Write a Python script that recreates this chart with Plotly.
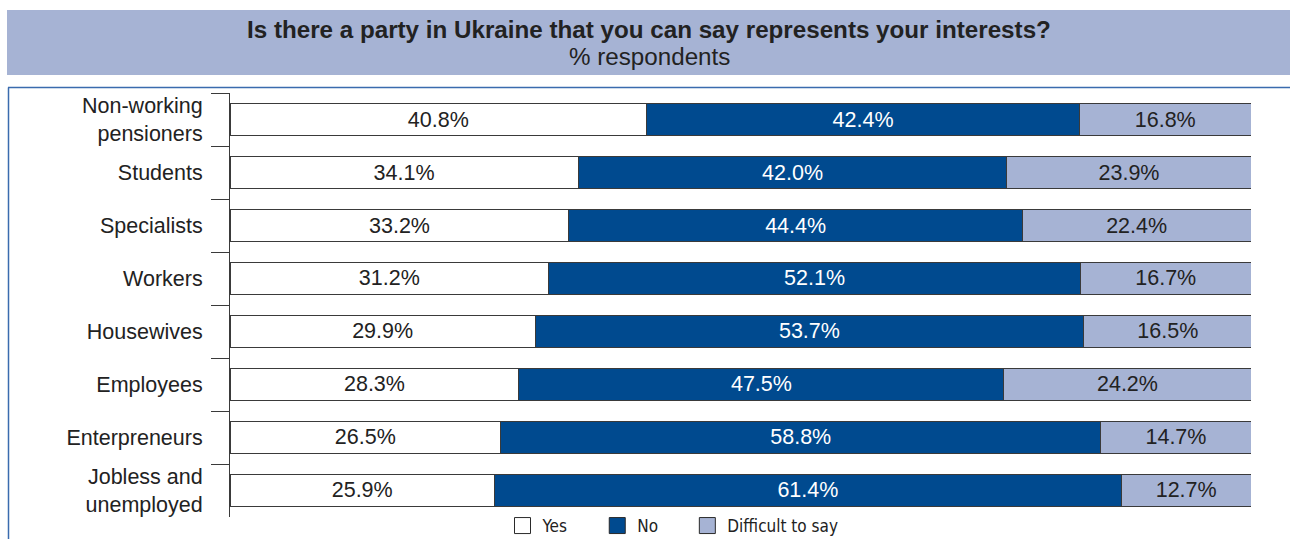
import plotly.graph_objects as go

categories = ["Non-working<br>pensioners", "Students", "Specialists", "Workers",
              "Housewives", "Employees", "Enterpreneurs", "Jobless and<br>unemployed"]
yes = [40.8, 34.1, 33.2, 31.2, 29.9, 28.3, 26.5, 25.9]
no = [42.4, 42.0, 44.4, 52.1, 53.7, 47.5, 58.8, 61.4]
difficult = [16.8, 23.9, 22.4, 16.7, 16.5, 24.2, 14.7, 12.7]
series_names = ["Yes", "No", "Difficult to say"]

W, H = 1290, 539
x0, x1 = 230, 1251
y0, y1 = 93, 517

def px(p):
    return p / W

def py(p):
    return 1 - p / H

fill = ["#FFFFFF", "#004A8F", "#A6B3D4"]
txtc = ["#222222", "#FFFFFF", "#222222"]
fig = go.Figure()
for name, vals, fc, tc in zip(series_names, [yes, no, difficult], fill, txtc):
    fig.add_trace(go.Bar(
        y=categories, x=vals, name=name, orientation="h",
        marker=dict(color=fc, line=dict(color="#3a3a3a", width=1)),
        width=0.59, showlegend=False,
        texttemplate="%{x:.1f}%", textposition="inside", insidetextanchor="middle",
        textfont=dict(family="Liberation Sans, Arial", size=21.5, color=tc),
        constraintext="none", hoverinfo="skip",
    ))
# legend entries (square swatches)
pad = "\u00a0" * 5
for i, (name, fc) in enumerate(zip(series_names, fill)):
    label = name + (pad if i < len(series_names) - 1 else "")
    fig.add_trace(go.Scatter(
        x=[None], y=[None], mode="markers", name=label,
        marker=dict(symbol="square", size=17, color=fc, line=dict(color="#2a2a2a", width=1)),
        hoverinfo="skip",
    ))

shapes = [
    dict(type="rect", xref="paper", yref="paper", x0=px(7), x1=px(1290), y0=py(75), y1=py(10),
         fillcolor="#A6B3D4", line=dict(width=0), layer="below"),
    dict(type="line", xref="paper", yref="paper", x0=px(8), x1=px(1290), y0=py(87.5), y1=py(87.5),
         line=dict(color="#3A6BAE", width=1.5)),
    dict(type="line", xref="paper", yref="paper", x0=px(8.5), x1=px(8.5), y0=py(87.5), y1=py(539),
         line=dict(color="#3A6BAE", width=1.5)),
]

annotations = [
    dict(text="<b>Is there a party in Ukraine that you can say represents your interests?</b>",
         xref="paper", yref="paper", x=px(649), y=py(29), xanchor="center", yanchor="middle",
         showarrow=False, font=dict(family="Liberation Sans, Arial", size=24.2, color="#222222")),
    dict(text="% respondents",
         xref="paper", yref="paper", x=px(649), y=py(57), xanchor="center", yanchor="middle",
         showarrow=False, font=dict(family="Liberation Sans, Arial", size=24.2, color="#222222")),
]

fig.update_layout(
    width=W, height=H,
    margin=dict(l=0, r=0, t=0, b=0, autoexpand=False),
    paper_bgcolor="white", plot_bgcolor="white",
    barmode="stack", bargap=0.41,
    showlegend=True,
    legend=dict(orientation="h", x=px(673), y=py(526), xanchor="center", yanchor="middle",
                font=dict(family="DejaVu Sans Condensed, Arial", size=17, color="#222222"),
                itemwidth=30, traceorder="normal", bgcolor="rgba(0,0,0,0)",
                tracegroupgap=0),
    xaxis=dict(domain=[px(x0), px(x1)], range=[0, 100], visible=False, fixedrange=True),
    yaxis=dict(domain=[py(y1), py(y0)], type="category", categoryorder="array",
               categoryarray=categories, autorange="reversed",
               showline=True, linecolor="#3a3a3a", linewidth=1,
               ticks="outside", ticklen=18, tickcolor="#3a3a3a", tickwidth=1,
               tickson="boundaries", showgrid=False, automargin=False,
               ticklabelstandoff=22,
               tickfont=dict(family="Liberation Sans, Arial", size=21.5, color="#222222")),
    shapes=shapes, annotations=annotations,
    font=dict(family="Liberation Sans, Arial"),
)

fig.write_html("out.html")
